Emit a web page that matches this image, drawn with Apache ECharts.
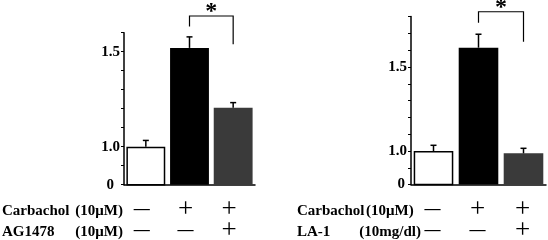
<!DOCTYPE html>
<html>
<head>
<meta charset="utf-8">
<script src="https://cdn.jsdelivr.net/npm/echarts@6/dist/echarts.min.js"></script>
<style>
html, body { margin: 0; padding: 0; background: #fff; }
#chart { width: 548px; height: 240px; }
</style>
</head>
<body>
<div id="chart"></div>
<script>
// three bars per panel: control, carbachol, carbachol + inhibitor
const groups = ['ctrl', 'carb', 'carb+inh'];

// left panel: Carbachol +/- AG1478
const valuesA = [1.0, 1.52, 1.205];
const errorsA = [0.033, 0.058, 0.027];

// right panel: Carbachol +/- LA-1
const valuesB = [1.0, 1.615, 0.986];
const errorsB = [0.034, 0.08, 0.03];

// +/- rows under the bars
const carbRow = ['—', '+', '+'];
const inhRow = ['—', '—', '+'];

// broken y axis: the bottom (0.8) is labelled "0"
const yMin = 0.8;
const yMaxA = 1.6;
const yMaxB = 1.8;
const yTickLabels = { '0.8': '0', '1.0': '1.0', '1.5': '1.5' };

// significance bracket: [from bar, to bar, top, left leg end, right leg end]
const bracketA = [1, 2, 1.688, 1.632, 1.539];
const bracketB = [1, 2, 1.829, 1.764, 1.651];

const barColors = ['#ffffff', '#000000', '#3a3a3a'];

const FONT = 'Liberation Serif';

const chart = echarts.init(document.getElementById('chart'));

function yLabel(v) {
    const k = (Math.round(v * 10) / 10).toFixed(1);
    const t = yTickLabels[k];
    if (!t) return '';
    return t === '0' ? '{z|0}' : t;
}

function yAxisOf(gridIndex, max, zeroPad) {
    return {
        type: 'value',
        gridIndex: gridIndex,
        min: yMin,
        max: max,
        interval: 0.1,
        axisLine: { show: true, lineStyle: { color: '#000', width: 1.5 } },
        axisTick: { show: true, length: 3, lineStyle: { color: '#000', width: 1 } },
        splitLine: { show: false },
        axisLabel: {
            margin: 4,
            color: '#000',
            fontFamily: FONT,
            fontWeight: 'bold',
            fontSize: 15,
            formatter: yLabel,
            rich: {
                z: { fontFamily: FONT, fontWeight: 'bold', fontSize: 15, color: '#000', padding: [0, zeroPad, 0, 0] }
            }
        }
    };
}

function xAxisOf(gridIndex, shift) {
    return {
        type: 'category',
        gridIndex: gridIndex,
        data: groups,
        axisLine: { lineStyle: { color: '#000', width: 1.5 } },
        axisTick: { show: false },
        axisLabel: {
            margin: 15,
            interval: 0,
            padding: [0, shift, 0, 0],
            formatter: (val, idx) => {
                const a = carbRow[idx] === '+' ? 'p' : 'd';
                const b = inhRow[idx] === '+' ? 'p' : 'd';
                return `{${a}|${carbRow[idx]}}\n{${b}|${inhRow[idx]}}`;
            },
            rich: {
                p: { fontFamily: FONT, fontSize: 27, lineHeight: 21, color: '#000' },
                d: { fontFamily: FONT, fontWeight: 'bold', fontSize: 16, lineHeight: 21, color: '#000' }
            }
        }
    };
}

function barSeries(axisIndex, values, gap) {
    return {
        type: 'bar',
        xAxisIndex: axisIndex,
        yAxisIndex: axisIndex,
        barCategoryGap: gap,
        clip: true,
        data: values.map((v, i) => ({
            value: v,
            itemStyle: { color: barColors[i], borderColor: '#000', borderWidth: i === 0 ? 1.5 : 0 }
        }))
    };
}

function errorSeries(axisIndex, values, errors) {
    return {
        type: 'custom',
        xAxisIndex: axisIndex,
        yAxisIndex: axisIndex,
        z: 3,
        encode: { x: 0, y: [1, 2] },
        data: values.map((v, i) => [i, v, errors[i]]),
        renderItem: (params, api) => {
            const i = api.value(0);
            const base = api.coord([i, api.value(1)]);
            const top = api.coord([i, api.value(1) + api.value(2)]);
            const st = { stroke: '#000', lineWidth: 1.5 };
            return {
                type: 'group',
                children: [
                    { type: 'line', shape: { x1: base[0], y1: base[1], x2: top[0], y2: top[1] }, style: st },
                    { type: 'line', shape: { x1: top[0] - 3, y1: top[1], x2: top[0] + 3, y2: top[1] }, style: st }
                ]
            };
        }
    };
}

function bracketSeries(axisIndex, bracket) {
    return {
        type: 'custom',
        xAxisIndex: axisIndex,
        yAxisIndex: axisIndex,
        z: 3,
        encode: { x: [0, 1], y: [2, 3, 4] },
        data: [bracket],
        renderItem: (params, api) => {
            const a = api.coord([api.value(0), api.value(2)]);
            const b = api.coord([api.value(1), api.value(2)]);
            const la = api.coord([api.value(0), api.value(3)]);
            const rb = api.coord([api.value(1), api.value(4)]);
            return {
                type: 'group',
                children: [
                    {
                        type: 'polyline',
                        shape: { points: [[a[0], la[1]], [a[0], a[1]], [b[0], b[1]], [b[0], rb[1]]] },
                        style: { stroke: '#000', lineWidth: 1.2, fill: null }
                    },
                    {
                        type: 'text',
                        x: (a[0] + b[0]) / 2,
                        y: a[1] + 8,
                        style: {
                            text: '*',
                            font: 'bold 24px ' + FONT,
                            fill: '#000',
                            align: 'center',
                            verticalAlign: 'bottom'
                        }
                    }
                ]
            };
        }
    };
}

function rowText(x, y, text, align) {
    return {
        type: 'text',
        x: x,
        y: y,
        style: {
            text: text,
            font: 'bold 15px ' + FONT,
            fill: '#000',
            align: align || 'left',
            verticalAlign: 'middle'
        }
    };
}

const option = {
    animation: false,
    backgroundColor: '#fff',
    grid: [
        { left: 124, right: 293, top: 32.7, bottom: 55.3, outerBoundsMode: 'none' },
        { left: 411, right: 2, top: 16.6, bottom: 55.4, outerBoundsMode: 'none' }
    ],
    xAxis: [xAxisOf(0, 8), xAxisOf(1, 2)],
    yAxis: [yAxisOf(0, yMaxA, 6), yAxisOf(1, yMaxB, 2)],
    series: [
        barSeries(0, valuesA, '11%'),
        errorSeries(0, valuesA, errorsA),
        bracketSeries(0, bracketA),
        barSeries(1, valuesB, '12%'),
        errorSeries(1, valuesB, errorsB),
        bracketSeries(1, bracketB)
    ],
    graphic: [
        rowText(2, 211, 'Carbachol'),
        rowText(123, 211, '(10μM)', 'right'),
        rowText(2, 232, 'AG1478'),
        rowText(123, 232, '(10μM)', 'right'),
        rowText(297, 211, 'Carbachol'),
        rowText(366, 211, '(10μM)'),
        rowText(297, 232, 'LA-1'),
        rowText(421, 232, '(10mg/dl)', 'right')
    ]
};

chart.setOption(option);
</script>
</body>
</html>
